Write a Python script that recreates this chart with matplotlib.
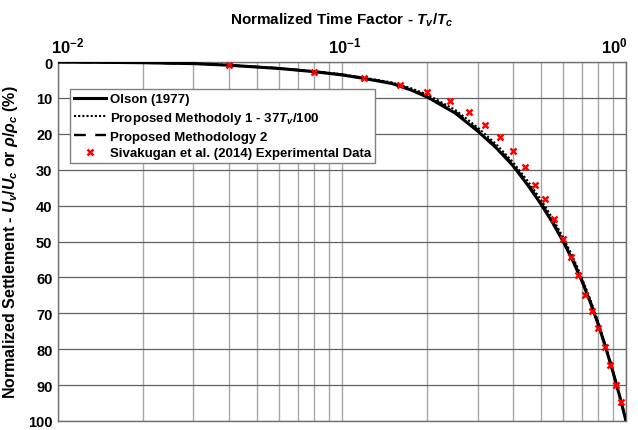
import matplotlib
matplotlib.use("Agg")
import matplotlib.pyplot as plt
from matplotlib.ticker import LogLocator, NullFormatter, FixedLocator
import matplotlib.transforms as mtransforms

plt.rcParams['font.family'] = ['Liberation Sans', 'DejaVu Sans']
plt.rcParams['font.weight'] = 'bold'
plt.rcParams['axes.labelweight'] = 'bold'
plt.rcParams['mathtext.fontset'] = 'custom'
plt.rcParams['mathtext.rm'] = 'Liberation Sans:bold'
plt.rcParams['mathtext.it'] = 'Liberation Sans:bold:italic'
plt.rcParams['mathtext.bf'] = 'Liberation Sans:bold'

# Curves (time factor ratio vs settlement %)
t_curve = [0.01, 0.015, 0.02, 0.03, 0.04, 0.06, 0.08, 0.10, 0.12, 0.15, 0.175, 0.20, 0.25, 0.30,
           0.35, 0.40, 0.45, 0.50, 0.55, 0.60, 0.65, 0.70, 0.75, 0.80, 0.85, 0.90, 0.95, 1.00]
u_olson = [0.0, 0.1, 0.2, 0.45, 0.9, 1.8, 2.7, 3.6, 4.6, 6.0, 7.8, 9.8, 14.2, 19.2,
           24.0, 28.9, 34.2, 39.4, 44.6, 49.9, 55.4, 61.1, 67.1, 73.3, 79.8, 86.4, 93.1, 100.0]
u_method1 = [0.0, 0.1, 0.2, 0.4, 0.85, 1.7, 2.6, 3.4, 4.4, 5.7, 7.3, 9.1, 13.3, 18.2,
             23.0, 27.9, 33.1, 38.2, 43.4, 48.8, 54.3, 60.2, 66.3, 72.7, 79.3, 86.0, 92.9, 100.0]
u_method2 = [0.0, 0.1, 0.2, 0.45, 0.9, 1.75, 2.65, 3.5, 4.5, 5.9, 7.6, 9.5, 13.8, 18.8,
             23.6, 28.5, 33.8, 39.0, 44.2, 49.5, 55.0, 60.8, 66.8, 73.1, 79.6, 86.2, 93.0, 100.0]

# Experimental data
t_exp = [0.04, 0.08, 0.12, 0.16, 0.20, 0.24, 0.28, 0.32, 0.36, 0.40, 0.44, 0.48,
         0.52, 0.56, 0.60, 0.64, 0.68, 0.72, 0.76, 0.80, 0.84, 0.88, 0.92, 0.96]
u_exp = [0.9, 2.9, 4.5, 6.4, 8.4, 10.8, 14.0, 17.5, 21.0, 24.8, 29.2, 34.2,
         38.2, 43.7, 49.4, 54.4, 59.3, 64.9, 69.4, 74.0, 79.5, 84.5, 90.1, 94.6]

x_ticks = [0.01, 0.1, 1.0]
x_ticklabels = [r'$\mathbf{10^{-2}}$', r'$\mathbf{10^{-1}}$', r'$\mathbf{10^{0}}$']
y_ticks = [0, 10, 20, 30, 40, 50, 60, 70, 80, 90, 100]

fig = plt.figure(figsize=(6.38, 4.31), dpi=100)
ax = fig.add_axes([0.0909, 0.0209, 0.8903, 0.8329])

ax.plot(t_curve, u_olson, color='black', lw=2.2, label='Olson (1977)', zorder=3)
ax.plot(t_curve, u_method1, color='black', lw=1.5, ls=(0, (1, 1)),
        label=r'Proposed Methodoly 1 - 37$T_v$/100', zorder=4)
ax.plot(t_curve, u_method2, color='black', lw=1.7, ls=(0, (5, 4)),
        label='Proposed Methodology 2', zorder=4)
ax.plot(t_exp, u_exp, ls='none', marker='x', color='red', ms=4.0, mew=1.8,
        label='Sivakugan et al. (2014) Experimental Data', zorder=5)

ax.set_xscale('log')
ax.set_xlim(0.01, 1.0)
ax.set_ylim(100, 0)

ax.xaxis.set_ticks_position('top')
ax.xaxis.set_label_position('top')
ax.xaxis.set_major_locator(FixedLocator(x_ticks))
ax.set_xticklabels(x_ticklabels)
ax.xaxis.set_minor_locator(LogLocator(base=10, subs=range(2, 10)))
ax.xaxis.set_minor_formatter(NullFormatter())
ax.set_yticks(y_ticks)
ax.set_yticklabels([str(v) for v in y_ticks])

ax.tick_params(axis='both', which='both', length=0, pad=4)
ax.tick_params(axis='y', labelsize=10.5)
ax.tick_params(axis='x', labelsize=12, pad=5)

xlabels = ax.get_xticklabels()
xlabels[0].set_horizontalalignment('center')
xlabels[0].set_transform(xlabels[0].get_transform() +
                         mtransforms.ScaledTranslation(10 / 100, 0, fig.dpi_scale_trans))
xlabels[2].set_horizontalalignment('center')
xlabels[2].set_transform(xlabels[2].get_transform() +
                         mtransforms.ScaledTranslation(-12 / 100, 0, fig.dpi_scale_trans))
xlabels[1].set_transform(xlabels[1].get_transform() +
                         mtransforms.ScaledTranslation(3 / 100, 0, fig.dpi_scale_trans))

ax.grid(True, which='major', axis='x', color='#a8a8a8', lw=1.0, zorder=0)
ax.grid(True, which='minor', axis='x', color='#a8a8a8', lw=1.0, zorder=0)
ax.grid(True, which='major', axis='y', color='#606060', lw=0.9, zorder=0)
ax.set_axisbelow(True)

for s in ax.spines.values():
    s.set_color('#707070')
    s.set_linewidth(1.0)

ax.set_xlabel(r'Normalized Time Factor - $T_v$/$T_c$', fontsize=11, labelpad=8)
ax.set_ylabel(r'Normalized Settlement - $U_v$/$U_c$ or $\rho$/$\rho_c$ (%)', fontsize=11.5,
              labelpad=6)

leg = ax.legend(loc='upper left', bbox_to_anchor=(0.021, 0.925), fontsize=9.5,
                frameon=True, fancybox=False, edgecolor='#808080', framealpha=1,
                borderpad=0.3, labelspacing=0.35, handlelength=2.4, handletextpad=0.3,
                borderaxespad=0)
leg.get_frame().set_linewidth(1.0)

fig.savefig('out.png', dpi=100)
